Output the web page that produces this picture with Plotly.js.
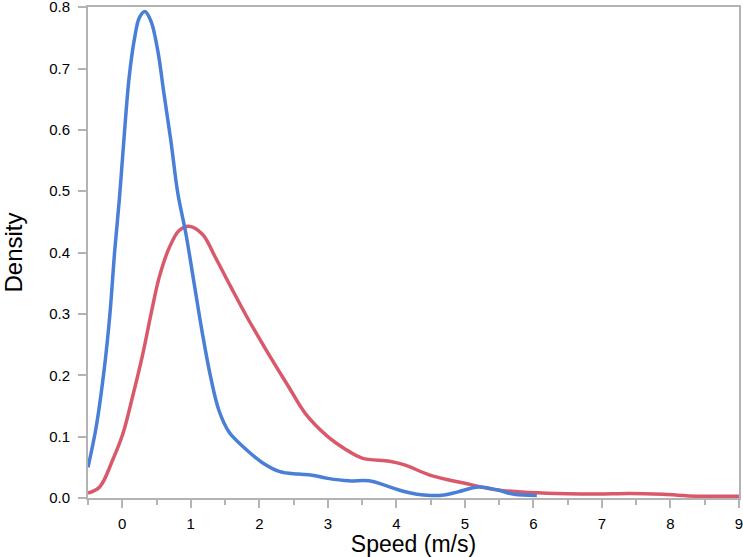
<!DOCTYPE html>
<html>
<head>
<meta charset="utf-8">
<script src="https://cdn.plot.ly/plotly-3.0.1.min.js"></script>
<style>html,body{margin:0;padding:0;background:#fff;}#chart{width:743px;height:557px;}</style>
</head>
<body>
<div id="chart"></div>
<script>
// Density curve for the first group (blue)
const blueSpeed = [-0.5,-0.38,-0.26,-0.18,-0.11,-0.04,0.03,0.10,0.18,0.25,0.33,0.42,0.52,0.61,0.71,0.81,0.93,1.05,1.17,1.29,1.41,1.56,1.80,2.04,2.30,2.57,2.77,3.0,3.30,3.6,3.88,4.1,4.3,4.5,4.7,4.9,5.2,5.48,5.72,6.05];
const blueDensity = [0.05,0.116,0.213,0.30,0.403,0.49,0.593,0.685,0.75,0.783,0.793,0.777,0.728,0.658,0.582,0.497,0.43,0.349,0.268,0.197,0.143,0.107,0.08,0.058,0.043,0.039,0.037,0.032,0.028,0.028,0.019,0.011,0.006,0.004,0.005,0.010,0.018,0.013,0.006,0.004];
// Density curve for the second group (red)
const redSpeed = [-0.5,-0.33,-0.14,0.01,0.15,0.30,0.42,0.54,0.69,0.83,0.97,1.17,1.36,1.58,1.82,2.09,2.28,2.43,2.67,3.0,3.25,3.5,3.9,4.12,4.5,5.0,5.48,5.96,6.5,6.93,7.41,7.9,8.38,9.0];
const redDensity = [0.008,0.018,0.062,0.105,0.165,0.235,0.30,0.36,0.409,0.436,0.443,0.43,0.392,0.345,0.295,0.243,0.208,0.181,0.138,0.10,0.08,0.065,0.06,0.054,0.037,0.024,0.013,0.009,0.007,0.0065,0.0075,0.006,0.003,0.003];
const xTickVals = [0,1,2,3,4,5,6,7,8,9];
const yTickVals = [0,0.1,0.2,0.3,0.4,0.5,0.6,0.7,0.8];
const yTickText = ['0.0','0.1','0.2','0.3','0.4','0.5','0.6','0.7','0.8'];

const axisColor = '#b3b3b3';
const traces = [
  {x: redSpeed, y: redDensity, type: 'scatter', mode: 'lines',
   line: {color: '#d9596b', width: 3.5, shape: 'spline', smoothing: 1}, hoverinfo: 'skip'},
  {x: blueSpeed, y: blueDensity, type: 'scatter', mode: 'lines',
   line: {color: '#4a7fd7', width: 3.5, shape: 'spline', smoothing: 1}, hoverinfo: 'skip'}
];
const layout = {
  width: 743, height: 557,
  margin: {l: 88, r: 4, t: 7, b: 59},
  paper_bgcolor: '#fff', plot_bgcolor: '#fff',
  showlegend: false,
  font: {family: 'Liberation Sans, Arial, Helvetica, sans-serif', color: '#000', size: 15},
  xaxis: {
    range: [-0.5, 9.0005], showgrid: false, zeroline: false,
    showline: true, linecolor: axisColor, linewidth: 2, mirror: true,
    ticks: 'outside', ticklen: 8, tickwidth: 2, tickcolor: axisColor,
    tickvals: xTickVals, ticktext: xTickVals.map(String),
    tickfont: {size: 15}, ticklabelstandoff: 3, ticklabeloverflow: 'allow',
    minor: {dtick: 0.5, tick0: 0.5, ticks: 'outside', ticklen: 5, tickwidth: 2, tickcolor: axisColor, showgrid: false},
    title: {text: 'Speed (m/s)', font: {size: 23}, standoff: 0}
  },
  yaxis: {
    range: [0, 0.8003], showgrid: false, zeroline: false,
    showline: true, linecolor: axisColor, linewidth: 2, mirror: true,
    ticks: 'outside', ticklen: 8, tickwidth: 2, tickcolor: axisColor,
    tickvals: yTickVals, ticktext: yTickText,
    tickfont: {size: 15}, ticklabelstandoff: 5, ticklabeloverflow: 'allow',
    title: {text: 'Density', font: {size: 24}, standoff: 24}
  }
};
Plotly.newPlot('chart', traces, layout, {displayModeBar: false, staticPlot: true});
</script>
</body>
</html>
